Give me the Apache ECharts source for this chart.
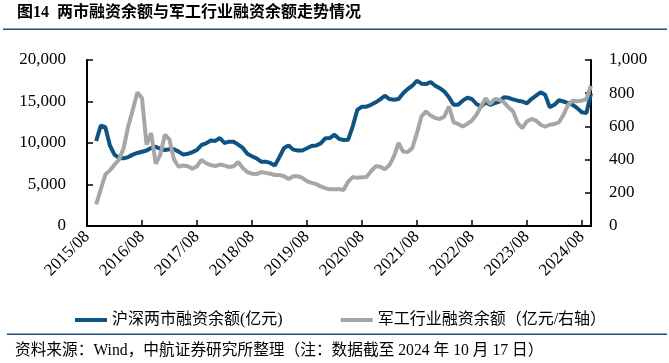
<!DOCTYPE html>
<html>
<head>
<meta charset="utf-8">
<script src="https://cdn.jsdelivr.net/npm/echarts@6/dist/echarts.min.js"></script>
<style>
html,body{margin:0;padding:0;background:#fff;}
#c{width:669px;height:363px;}
</style>
</head>
<body>
<div id="c"></div>
<script>
// Month categories 2015/08 .. 2024/10
var startYear = 2015, startMonth = 8, monthCount = 111;
var categories = [];
for (var k = 0; k < monthCount; k++) {
  var m = startMonth - 1 + k;
  var y = startYear + Math.floor(m / 12);
  var mm = (m % 12) + 1;
  categories.push(y + '/' + (mm < 10 ? '0' + mm : mm));
}

// 沪深两市融资余额 (亿元), monthly readings
var marketMargin = [
  null, null, 10240, 12100, 11900, 9700, 8600, 8200, 8150, 8300,
  8600, 8800, 8950, 9100, 9400, 9550, 9300, 9160, 9250, 9240,
  8960, 8600, 8700, 8900, 9160, 9760, 9960, 10300, 10250, 10600,
  10000, 10160, 10150, 9800, 9400, 8700, 8400, 8150, 7750, 7750,
  7600, 7300, 8300, 9400, 9700, 9200, 9100, 9100, 9360, 9640,
  9700, 9960, 10560, 10600, 11000, 10500, 10360, 10400, 12000, 14000,
  14380, 14380, 14600, 14900, 15260, 15700, 15300, 15200, 15300, 16000,
  16500, 16900, 17500, 17150, 17100, 17350, 16900, 16600, 16200, 15500,
  14600, 14600, 15100, 15450, 15300, 14700, 14400, 14900, 14600, 14800,
  15000, 15500, 15450, 15250, 15100, 15000, 14780, 15300, 15700, 16100,
  15800, 14300, 14600, 15150, 15000, 14800, 14600, 14200, 13700, 13600,
  16000
];

// 军工行业融资余额 (亿元, 右轴), monthly readings
var defenseMargin = [
  null, null, 130, 220, 310, 335, 370, 400, 470, 600,
  700, 805, 770, 490, 560, 375, 430, 550, 520, 400,
  357, 365, 360, 345, 360, 398, 378, 367, 361, 370,
  365, 355, 360, 385, 350, 325, 315, 313, 325, 320,
  315, 307, 307, 300, 282, 300, 300, 290, 270, 260,
  253, 238, 228, 221, 221, 222, 217, 267, 295, 290,
  293, 295, 330, 360, 357, 341, 367, 420, 500, 448,
  445, 470, 560, 660, 690, 665, 650, 645, 660, 720,
  625, 615, 600, 615, 635, 670, 720, 769, 735, 765,
  760, 745, 715, 690, 620, 590, 630, 645, 635, 610,
  598, 610, 614, 625, 670, 730, 755, 752, 755, 765,
  845
];

var seriesNames = ['沪深两市融资余额(亿元)', '军工行业融资余额（亿元/右轴）'];
var titleText = '图14  两市融资余额与军工行业融资余额走势情况';
var sourceText = '资料来源：Wind，中航证券研究所整理（注：数据截至 2024 年 10 月 17 日）';

var FONT = '"Liberation Serif", "Noto Sans CJK SC", serif';
function commas(v) { return String(v).replace(/\B(?=(\d{3})+(?!\d))/g, ','); }

var chart = echarts.init(document.getElementById('c'), null, {renderer: 'canvas'});
chart.setOption({
  animation: false,
  backgroundColor: '#fff',
  grid: {left: 87, right: 78, top: 60, bottom: 137, containLabel: false},
  graphic: [
    {type: 'text', left: 17, top: 5, style: {text: titleText, font: 'bold 16px "Liberation Serif", "Noto Sans CJK SC", serif', fill: '#000'}},
    {type: 'rect', shape: {x: 3, y: 28.5, width: 664, height: 1.6}, style: {fill: '#1f4e79'}},
    {type: 'rect', shape: {x: 7, y: 333.5, width: 660, height: 1.6}, style: {fill: '#1f4e79'}},
    {type: 'text', left: 15, top: 343, style: {text: sourceText, font: '15.7px "Liberation Serif", "Noto Sans CJK SC", serif', fill: '#000'}}
  ],
  legend: {
    left: 70, top: 307,
    itemWidth: 32, itemHeight: 4, itemGap: 58,
    icon: 'rect',
    textStyle: {fontFamily: FONT, fontSize: 16, color: '#000'},
    data: seriesNames
  },
  xAxis: {
    type: 'category',
    data: categories,
    boundaryGap: false,
    axisLine: {lineStyle: {color: '#000', width: 2}},
    axisTick: {inside: true, length: 6, interval: 11, lineStyle: {color: '#000', width: 1.5}},
    axisLabel: {interval: 11, rotate: 45, margin: 8, fontFamily: FONT, fontSize: 17, color: '#000'},
    splitLine: {show: false}
  },
  yAxis: [
    {
      type: 'value', min: 0, max: 20000, interval: 5000,
      axisLine: {show: true, lineStyle: {color: '#000', width: 2}},
      axisTick: {show: true, inside: true, length: 6, lineStyle: {color: '#000', width: 1.5}},
      axisLabel: {margin: 21, fontFamily: FONT, fontSize: 17, color: '#000', formatter: commas},
      splitLine: {show: false}
    },
    {
      type: 'value', min: 0, max: 1000, interval: 200, position: 'right',
      axisLine: {show: true, lineStyle: {color: '#000', width: 2}},
      axisTick: {show: true, inside: true, length: 6, lineStyle: {color: '#000', width: 1.5}},
      axisLabel: {margin: 18, fontFamily: FONT, fontSize: 17, color: '#000', formatter: commas},
      splitLine: {show: false}
    }
  ],
  series: [
    {
      name: seriesNames[0], type: 'line', yAxisIndex: 0, data: marketMargin,
      showSymbol: false, symbol: 'none', connectNulls: false,
      lineStyle: {color: '#0d5483', width: 4}, itemStyle: {color: '#0d5483'}, z: 2
    },
    {
      name: seriesNames[1], type: 'line', yAxisIndex: 1, data: defenseMargin,
      showSymbol: false, symbol: 'none',
      lineStyle: {color: '#a6a6a6', width: 4}, itemStyle: {color: '#a6a6a6'}, z: 3
    }
  ]
});
</script>
</body>
</html>
